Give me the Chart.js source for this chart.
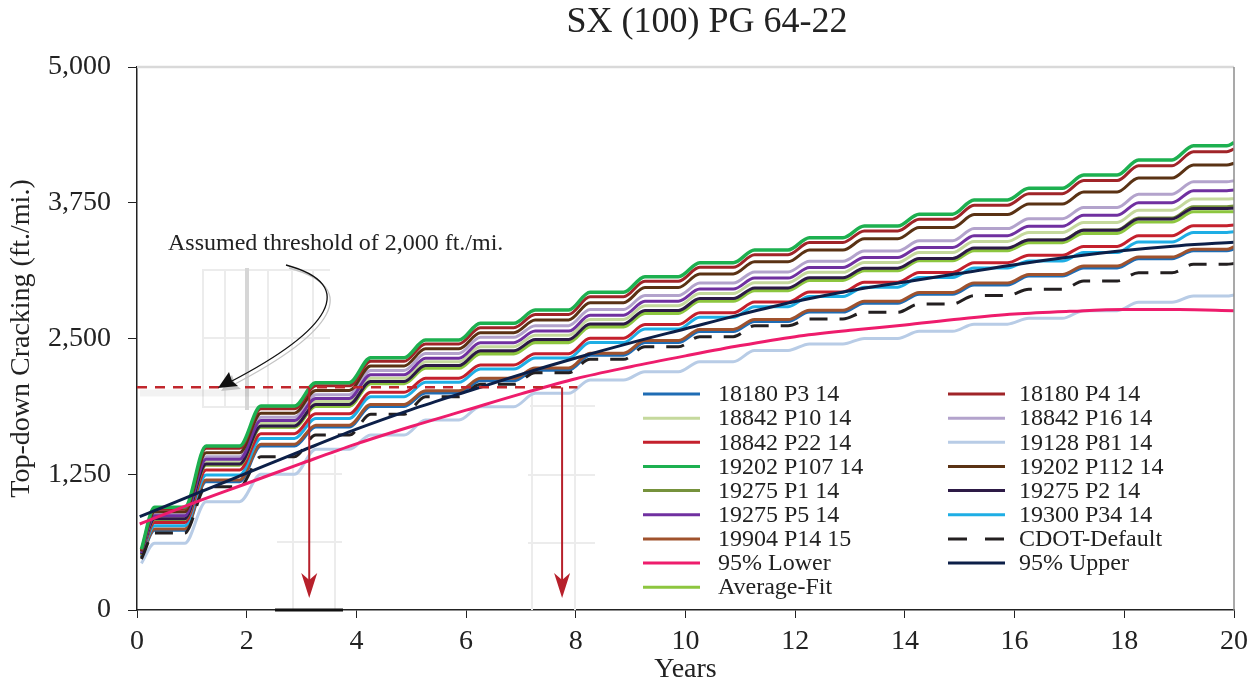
<!DOCTYPE html>
<html>
<head>
<meta charset="utf-8">
<title>SX (100) PG 64-22</title>
<style>
  body { margin: 0; background: #fff; }
  #chart-container { width: 1260px; height: 684px; }
</style>
<script src="https://cdn.jsdelivr.net/npm/chart.js@4.4.1/dist/chart.umd.min.js"></script>
</head>
<body>
<div id="chart-container"><canvas id="graphCanvas" width="1260" height="684"></canvas></div>
<script>
// step series: [start, plateau yr0, plateau after yr1 ... after yr19, value at yr20]
const s18180P3   = [480, 735, 1182, 1510, 1685, 1875, 1998, 2112, 2208, 2345, 2463, 2565, 2656, 2743, 2825, 2908, 2992, 3075, 3150, 3235, 3308, 3324];
const s18180P4   = [550, 930, 1489, 1853, 2064, 2290, 2450, 2600, 2721, 2884, 3027, 3155, 3272, 3384, 3491, 3599, 3727, 3833, 3954, 4091, 4220, 4245];
const s18842P10  = [520, 852, 1363, 1717, 1919, 2135, 2285, 2425, 2530, 2675, 2802, 2914, 3014, 3109, 3200, 3292, 3394, 3475, 3569, 3681, 3784, 3787];
const s18842P16  = [530, 883, 1412, 1774, 1983, 2206, 2363, 2511, 2618, 2767, 2896, 3010, 3113, 3211, 3305, 3399, 3512, 3603, 3707, 3829, 3943, 3953];
const s18842P22  = [505, 805, 1289, 1624, 1807, 2004, 2135, 2256, 2359, 2503, 2628, 2737, 2835, 2929, 3018, 3108, 3198, 3266, 3348, 3447, 3538, 3545];
const s19128P81  = [430, 614, 997, 1249, 1480, 1611, 1750, 1872, 1995, 2118, 2194, 2286, 2390, 2449, 2501, 2566, 2632, 2686, 2756, 2833, 2891, 2900];
const s19202P107 = [560, 945, 1510, 1878, 2093, 2323, 2486, 2640, 2762, 2925, 3069, 3198, 3315, 3428, 3536, 3645, 3775, 3883, 4005, 4144, 4275, 4303];
const s19202P112 = [540, 905, 1449, 1812, 2022, 2247, 2405, 2554, 2671, 2830, 2969, 3094, 3206, 3314, 3418, 3522, 3641, 3738, 3849, 3977, 4097, 4113];
const s19275P1   = [515, 835, 1335, 1684, 1880, 2091, 2235, 2370, 2473, 2617, 2742, 2852, 2951, 3045, 3134, 3224, 3326, 3406, 3499, 3610, 3713, 3720];
const s19275P2   = [515, 840, 1344, 1695, 1893, 2105, 2251, 2388, 2490, 2634, 2758, 2868, 2965, 3059, 3147, 3237, 3333, 3407, 3496, 3601, 3698, 3699];
const s19275P5   = [525, 867, 1387, 1744, 1948, 2167, 2319, 2462, 2568, 2715, 2843, 2955, 3056, 3153, 3245, 3338, 3447, 3533, 3634, 3751, 3861, 3867];
const s19300P34  = [495, 775, 1243, 1580, 1764, 1964, 2096, 2219, 2321, 2464, 2587, 2696, 2793, 2886, 2973, 3062, 3149, 3214, 3293, 3389, 3477, 3484];
const s19904P14  = [485, 745, 1197, 1526, 1702, 1893, 2018, 2133, 2228, 2365, 2482, 2584, 2674, 2760, 2842, 2924, 3010, 3090, 3168, 3250, 3321, 3345];
const cdotDefault = [470, 709, 1135, 1412, 1611, 1802, 1964, 2078, 2185, 2308, 2425, 2517, 2618, 2680, 2741, 2818, 2895, 2953, 3029, 3106, 3183, 3190];
const averageFit = [510, 835, 1335, 1682, 1875, 2084, 2225, 2358, 2461, 2606, 2731, 2842, 2940, 3035, 3124, 3215, 3309, 3382, 3468, 3572, 3667, 3668];

// smooth confidence bounds, one value per year
const fitYears = [0.05, 1, 2, 3, 4, 5, 6, 7, 8, 9, 10, 11, 12, 13, 14, 15, 16, 17, 18, 19, 20];
const lower95 = [792, 980, 1165, 1350, 1530, 1690, 1840, 1990, 2130, 2240, 2340, 2435, 2517, 2575, 2625, 2680, 2725, 2750, 2766, 2766, 2756];
const upper95 = [859, 1055, 1260, 1465, 1665, 1845, 2010, 2170, 2320, 2460, 2590, 2720, 2840, 2940, 3020, 3100, 3180, 3250, 3310, 3355, 3386];

const yTicks = [0, 1250, 2500, 3750, 5000];
const threshold = 2050;
const thresholdEndYear = 8.03;
const arrowYears = [3.14, 7.75];
const arrowTipValue = 110;

// timing of the yearly rise
const startYear = 0.08, firstRiseEnd = 0.32, riseStart = -0.13, riseEnd = 0.26;

function stepPoints(vals) {
    var pts = [{ x: startYear, y: vals[0] }, { x: firstRiseEnd, y: vals[1] }];
    for (var k = 1; k <= 19; k++) {
        pts.push({ x: k + riseStart, y: vals[k] });
        pts.push({ x: k + riseEnd, y: vals[k + 1] });
    }
    pts.push({ x: 20 + riseStart, y: vals[20] });
    pts.push({ x: 20, y: vals[21] });
    return pts;
}
function fitPoints(vals) {
    return vals.map(function (v, i) { return { x: fitYears[i], y: v }; });
}

function series(label, vals, color, order, extra) {
    return Object.assign({
        label: label,
        data: stepPoints(vals),
        borderColor: color,
        backgroundColor: color,
        borderWidth: 3,
        pointRadius: 0,
        fill: false,
        cubicInterpolationMode: 'monotone',
        order: order
    }, extra || {});
}

var datasets = [
    series('18180 P3 14', s18180P3, '#1f6cb4', 16),
    series('18180 P4 14', s18180P4, '#a02428', 5),
    series('18842 P10 14', s18842P10, '#c5d99d', 10),
    series('18842 P16 14', s18842P16, '#b3a3cc', 8),
    series('18842 P22 14', s18842P22, '#c4202d', 13),
    series('19128 P81 14', s19128P81, '#b8cce6', 17),
    series('19202 P107 14', s19202P107, '#1db050', 4, { borderWidth: 3.5 }),
    series('19202 P112 14', s19202P112, '#5a3214', 6),
    series('19275 P1 14', s19275P1, '#76923c', 12),
    series('19275 P2 14', s19275P2, '#2d1a46', 9),
    series('19275 P5 14', s19275P5, '#7030a0', 7),
    series('19300 P34 14', s19300P34, '#1eaee5', 14),
    series('19904 P14 15', s19904P14, '#a0522d', 15),
    series('CDOT-Default', cdotDefault, '#231f20', 3, { borderDash: [18, 12] }),
    {
        label: '95% Lower', data: fitPoints(lower95), borderColor: '#ee1c6c', backgroundColor: '#ee1c6c',
        borderWidth: 3, pointRadius: 0, fill: false, cubicInterpolationMode: 'monotone', order: 1
    },
    {
        label: '95% Upper', data: fitPoints(upper95), borderColor: '#0c1f48', backgroundColor: '#0c1f48',
        borderWidth: 3, pointRadius: 0, fill: false, cubicInterpolationMode: 'monotone', order: 2
    },
    series('Average-Fit', averageFit, '#8dc63f', 11)
];

var FONT = '"Liberation Serif", "Times New Roman", serif';

// faint leftover grid fragments around the annotations
var ghostPlugin = {
    id: 'ghost',
    beforeDatasetsDraw: function (chart) {
        var ctx = chart.ctx;
        ctx.save();
        ctx.strokeStyle = '#ececec';
        ctx.lineWidth = 2;
        var lines = [
            [203, 269, 203, 408], [225, 269, 225, 408], [268, 269, 268, 408], [292, 269, 292, 408], [313, 269, 313, 408],
            [203, 270, 330, 270], [203, 338, 330, 338], [203, 407, 330, 407],
            [293, 455, 293, 610], [335, 455, 335, 610], [277, 474, 342, 474], [277, 542, 342, 542],
            [532, 390, 532, 610], [575, 390, 575, 610], [530, 406, 595, 406], [528, 475, 595, 475], [528, 543, 595, 543]
        ];
        lines.forEach(function (l) {
            ctx.beginPath(); ctx.moveTo(l[0], l[1]); ctx.lineTo(l[2], l[3]); ctx.stroke();
        });
        ctx.strokeStyle = '#d6d6d6';
        ctx.lineWidth = 4;
        ctx.beginPath(); ctx.moveTo(247, 268); ctx.lineTo(247, 410); ctx.stroke();
        // soft shadow under the threshold line
        ctx.strokeStyle = 'rgba(0,0,0,0.05)';
        ctx.lineWidth = 7;
        ctx.beginPath(); ctx.moveTo(140, 393); ctx.lineTo(330, 393); ctx.stroke();
        ctx.restore();
    }
};

var decorPlugin = {
    id: 'decor',
    afterDraw: function (chart) {
        var ctx = chart.ctx, a = chart.chartArea;
        var xs = chart.scales.x, ys = chart.scales.y;
        ctx.save();

        // frame top and right
        ctx.strokeStyle = '#d9d9d9';
        ctx.lineWidth = 2.5;
        ctx.beginPath(); ctx.moveTo(a.left, a.top); ctx.lineTo(a.right, a.top); ctx.stroke();
        ctx.strokeStyle = '#8c8c8c';
        ctx.lineWidth = 1.5;
        ctx.beginPath(); ctx.moveTo(a.right, a.top); ctx.lineTo(a.right, a.bottom); ctx.stroke();

        // short dark bar on the axis
        ctx.strokeStyle = '#111';
        ctx.lineWidth = 3;
        ctx.beginPath(); ctx.moveTo(275, a.bottom); ctx.lineTo(343, a.bottom); ctx.stroke();

        // threshold line
        var ty = ys.getPixelForValue(threshold);
        ctx.strokeStyle = '#c1272d';
        ctx.lineWidth = 2.5;
        ctx.setLineDash([10, 8]);
        ctx.beginPath(); ctx.moveTo(a.left, ty); ctx.lineTo(xs.getPixelForValue(thresholdEndYear), ty); ctx.stroke();
        ctx.setLineDash([]);

        // vertical arrows
        var tipY = ys.getPixelForValue(arrowTipValue);
        arrowYears.forEach(function (yr) {
            var px = xs.getPixelForValue(yr);
            ctx.strokeStyle = '#b7202b';
            ctx.fillStyle = '#b7202b';
            ctx.lineWidth = 2;
            ctx.beginPath(); ctx.moveTo(px, ty); ctx.lineTo(px, tipY - 18); ctx.stroke();
            ctx.beginPath();
            ctx.moveTo(px, tipY);
            ctx.lineTo(px - 8, tipY - 25);
            ctx.lineTo(px, tipY - 18);
            ctx.lineTo(px + 8, tipY - 25);
            ctx.closePath();
            ctx.fill();
        });

        // annotation text and curved arrow
        ctx.font = '24px ' + FONT;
        ctx.fillStyle = '#222';
        ctx.textBaseline = 'middle';
        ctx.textAlign = 'left';
        ctx.fillText('Assumed threshold of 2,000 ft./mi.', 168, 244);

        function curved(dx, dy, color) {
            ctx.strokeStyle = color;
            ctx.fillStyle = color;
            ctx.lineWidth = 1.3;
            ctx.beginPath();
            ctx.moveTo(286 + dx, 265 + dy);
            ctx.bezierCurveTo(360 + dx, 285 + dy, 330 + dx, 330 + dy, 230 + dx, 382 + dy);
            ctx.stroke();
            ctx.beginPath();
            ctx.moveTo(218 + dx, 388 + dy);
            ctx.lineTo(229 + dx, 372 + dy);
            ctx.lineTo(232 + dx, 381 + dy);
            ctx.lineTo(238 + dx, 386 + dy);
            ctx.closePath();
            ctx.fill();
        }
        curved(3, 3, '#c4c4c4');
        curved(0, 0, '#111');

        // legend
        var order = ['18180 P3 14', '18180 P4 14', '18842 P10 14', '18842 P16 14', '18842 P22 14', '19128 P81 14',
            '19202 P107 14', '19202 P112 14', '19275 P1 14', '19275 P2 14', '19275 P5 14', '19300 P34 14',
            '19904 P14 15', 'CDOT-Default', '95% Lower', '95% Upper', 'Average-Fit'];
        ctx.font = '24px ' + FONT;
        order.forEach(function (lbl, i) {
            var ds = chart.data.datasets.find(function (d) { return d.label === lbl; });
            var col = i % 2, row = Math.floor(i / 2);
            var x0 = col ? 948 : 643, tx = col ? 1019 : 718;
            var y = 394 + row * 24.15;
            ctx.strokeStyle = ds.borderColor;
            ctx.lineWidth = 3;
            if (ds.borderDash) ctx.setLineDash([19, 18]);
            ctx.beginPath(); ctx.moveTo(x0, y); ctx.lineTo(x0 + 57, y); ctx.stroke();
            ctx.setLineDash([]);
            ctx.fillStyle = '#222';
            ctx.fillText(lbl, tx, y + 1);
        });

        // chart title
        ctx.font = '36px ' + FONT;
        ctx.textAlign = 'center';
        ctx.fillText('SX (100) PG 64-22', 707, 23);
        ctx.restore();
    }
};

new Chart(document.getElementById('graphCanvas'), {
    type: 'line',
    data: { datasets: datasets },
    options: {
        responsive: false,
        devicePixelRatio: 1,
        animation: false,
        layout: { padding: { left: 8, top: 67, right: 26, bottom: 0 } },
        plugins: { legend: { display: false }, tooltip: { enabled: false } },
        scales: {
            x: {
                type: 'linear', min: 0, max: 20,
                afterFit: function (s) { s.height = 74; },
                ticks: { stepSize: 2, color: '#222', padding: 7, maxRotation: 0, font: { family: FONT, size: 28 } },
                grid: { drawOnChartArea: false, tickLength: 8, color: '#222' },
                border: { color: '#222', width: 1.5 },
                title: { display: true, text: 'Years', color: '#222', padding: 0, font: { family: FONT, size: 28, lineHeight: 1.0 } }
            },
            y: {
                type: 'linear', min: 0, max: 5000,
                afterFit: function (s) { s.width = 129; },
                afterBuildTicks: function (s) { s.ticks = yTicks.map(function (v) { return { value: v }; }); },
                ticks: {
                    color: '#222', padding: 17, font: { family: FONT, size: 28 },
                    callback: function (v) { return v.toLocaleString('en-US'); }
                },
                grid: { drawOnChartArea: false, tickLength: 9, color: '#222' },
                border: { color: '#222', width: 1.5 },
                title: { display: true, text: 'Top-down Cracking (ft./mi.)', color: '#222', padding: 0, font: { family: FONT, size: 28, lineHeight: 1.0 } }
            }
        }
    },
    plugins: [ghostPlugin, decorPlugin]
});
</script>
</body>
</html>
